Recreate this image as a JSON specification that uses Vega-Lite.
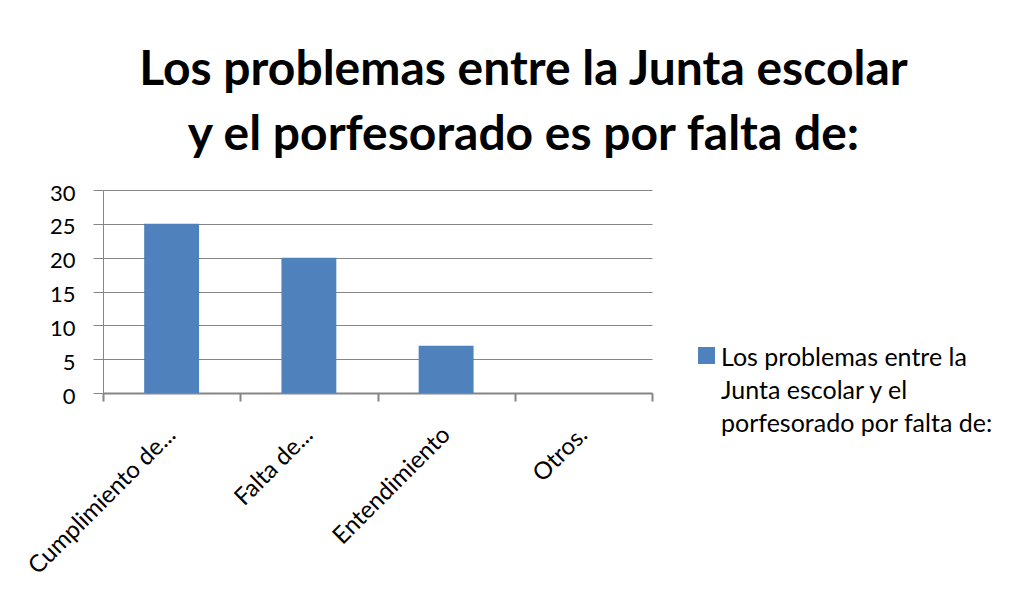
{
  "$schema": "https://vega.github.io/schema/vega-lite/v6.json",
  "width": 549,
  "height": 203,
  "autosize": {"type": "none"},
  "padding": {"left": 103, "top": 190, "right": 377, "bottom": 205},
  "background": "white",
  "title": {
    "text": ["Los problemas entre la Junta escolar", "y el porfesorado es por falta de:"],
    "font": "Lato",
    "fontSize": 48,
    "fontWeight": "bold",
    "color": "#000000",
    "anchor": "middle",
    "frame": "group",
    "dx": 146,
    "offset": 22,
    "lineHeight": 65
  },
  "data": {
    "values": [
      {"categoria": "Cumplimiento de...", "valor": 25, "serie": "Los problemas entre la Junta escolar y el porfesorado por falta de:"},
      {"categoria": "Falta de...", "valor": 20, "serie": "Los problemas entre la Junta escolar y el porfesorado por falta de:"},
      {"categoria": "Entendimiento", "valor": 7, "serie": "Los problemas entre la Junta escolar y el porfesorado por falta de:"},
      {"categoria": "Otros.", "valor": 0, "serie": "Los problemas entre la Junta escolar y el porfesorado por falta de:"}
    ]
  },
  "mark": {"type": "bar", "color": "#4F81BD", "width": {"band": 0.4}},
  "encoding": {
    "x": {
      "field": "categoria",
      "type": "nominal",
      "sort": null,
      "title": null,
      "scale": {"paddingInner": 0, "paddingOuter": 0},
      "axis": {
        "labelAngle": -45,
        "labelAlign": "right",
        "labelBaseline": "middle",
        "labelFont": "Lato",
        "labelFontSize": 24,
        "labelColor": "#000000",
        "labelPadding": 30,
        "labelLimit": 400,
        "tickBand": "extent",
        "ticks": true,
        "tickSize": 8,
        "tickWidth": 2,
        "tickColor": "#868686",
        "domainColor": "#868686",
        "domainWidth": 2,
        "grid": false
      }
    },
    "y": {
      "field": "valor",
      "type": "quantitative",
      "title": null,
      "scale": {"domain": [0, 30], "nice": false},
      "axis": {
        "values": [0, 5, 10, 15, 20, 25, 30],
        "labelFont": "Lato",
        "labelFontSize": 22,
        "labelColor": "#000000",
        "labelPadding": 18,
        "labelOffset": 3,
        "tickSize": 10,
        "tickColor": "#868686",
        "tickWidth": 1,
        "domainColor": "#868686",
        "domainWidth": 1,
        "grid": true,
        "gridColor": "#868686",
        "gridWidth": 1,
        "gridOpacity": 1
      }
    },
    "color": {
      "field": "serie",
      "type": "nominal",
      "scale": {"range": ["#4F81BD"]},
      "legend": {
        "title": null,
        "orient": "none",
        "legendX": 591,
        "legendY": 153,
        "padding": 0,
        "symbolType": "square",
        "symbolSize": 289,
        "symbolStrokeWidth": 0,
        "symbolOpacity": 1,
        "labelFont": "Lato",
        "labelFontSize": 25,
        "labelColor": "#000000",
        "labelOffset": 2,
        "labelLimit": 400,
        "labelBaseline": "top",
        "labelExpr": "['Los problemas entre la', 'Junta escolar y el', 'porfesorado por falta de:']",
        "encode": {"labels": {"update": {"lineHeight": {"value": 33}, "dy": {"value": -10}}}}
      }
    }
  },
  "config": {
    "view": {"stroke": null}
  }
}
